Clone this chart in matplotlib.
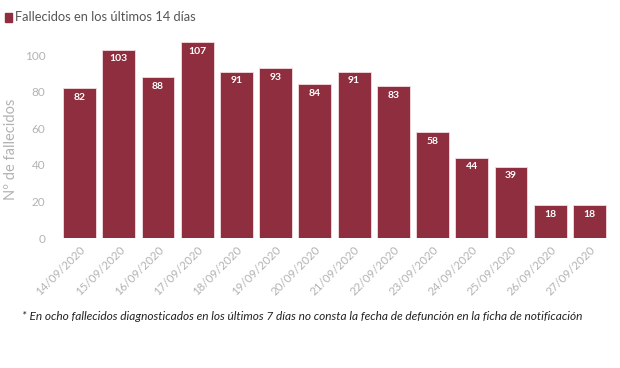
import matplotlib
matplotlib.use("Agg")
import matplotlib.pyplot as plt
from matplotlib.patches import Rectangle

plt.rcParams['font.family'] = ['Lato', 'DejaVu Sans']

fechas = ["14/09/2020", "15/09/2020", "16/09/2020", "17/09/2020", "18/09/2020",
          "19/09/2020", "20/09/2020", "21/09/2020", "22/09/2020", "23/09/2020",
          "24/09/2020", "25/09/2020", "26/09/2020", "27/09/2020"]
fallecidos = [82, 103, 88, 107, 91, 93, 84, 91, 83, 58, 44, 39, 18, 18]
y_ticks = [0, 20, 40, 60, 80, 100]

bar_color = "#8f2e3f"
gray = "#b3b3b3"

fig = plt.figure(figsize=(6.2, 3.68), dpi=100)
ax = fig.add_axes([0.0935, 0.353, 0.892, 0.547])
x = range(len(fechas))
bars = ax.bar(x, fallecidos, width=0.84, color=bar_color, edgecolor="#f3dde0", linewidth=0.6)
for xi, v in zip(x, fallecidos):
    ax.text(xi, v - 5, str(v), ha="center", va="center", color="white",
            fontsize=7.5, fontweight="bold")

ax.set_xlim(-0.55, 13.55)
ax.set_ylim(0, 110)
ax.set_yticks(y_ticks)
ax.set_yticklabels([str(t) for t in y_ticks], color=gray, fontsize=8.5)
ax.set_xticks(list(x))
ax.set_xticklabels(fechas, rotation=45, ha="right", rotation_mode="anchor",
                   color=gray, fontsize=8.3)
ax.tick_params(axis="both", length=0, pad=4)
ax.tick_params(axis="y", pad=9)
for s in ax.spines.values():
    s.set_visible(False)
ax.set_ylabel("Nº de fallecidos", color=gray, fontsize=10.5)
ax.yaxis.set_label_coords(-0.072, 0.44)

# legend
fig.patches.append(Rectangle((0.008, 0.941), 0.011, 0.024, transform=fig.transFigure,
                             color=bar_color, figure=fig))
fig.text(0.024, 0.953, "Fallecidos en los últimos 14 días", color="#555555",
         fontsize=9.3, va="center", ha="left")

fig.text(0.035, 0.14,
         "* En ocho fallecidos diagnosticados en los últimos 7 días no consta la fecha de defunción en la ficha de notificación",
         fontsize=8.6, style="italic", color="#222222", va="center", ha="left")

fig.savefig("out.png", dpi=100)
